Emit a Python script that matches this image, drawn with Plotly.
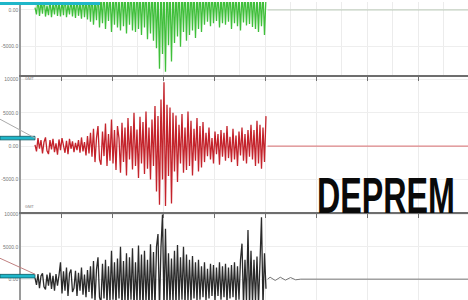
import plotly.graph_objects as go

# sampling of the recorded part (seconds)
t_start = 4.9
dt = 0.2941

green_vals = [300, -600, 1500, -800, 1200, -500, 1800, -900, 600, -700, 1400, -1000, 900, -600, 1600, -800, 1100, -900, 1300, -700, 2000, -1000, 800, -600, 1500, -900, 1200, -1100, 1700, -800, 1000, -1200, 1900, -1000, 1400, -1300, 2200,
              -1600, 2400, -2000, 1500, -1400, 2800, -2400, 1800, -1800, 3000, -2600, 2000, -1500, 2600, -3000, 2200, -2000, 3200, -2400, 1800, -2800, 3000, -2200, 2600, -3200, 2400, -2000, 3400, -2800, 2200, -3000, 3600, -2600, 2800, -3400, 3000, -2400, 3800, -4000, 2600, -3200, 3400, -4200,
              4000, -5200, 3000, -8000, 4200, -6000, 3600, -8400, 5000, -4800, 3500, -7000, 3800,
              -4500, 3000, -3600, 4000, -5000, 3200, -3000, 3800, -4200, 2800, -3400, 3600, -2800, 3000, -3800, 2600, -2600, 3400, -3000, 2400,
              -2000, 2800, -1600, 2400, -2200, 3000, -1800, 2200, -1500, 2600, -2400, 2000, -1800, 2800, -2000, 2400, -1600, 3000, -2600, 2200, -1800, 2600, -2200, 2000, -2800, 2400, -1700, 2600, -2100, 2200, -1900, 2800, -2300, 2400,
              -2600, 2000, -3000, 2400, -2200, 2600, -3400, 1800]

red_vals = [200, -800, 1200, -400, 900, -1100, 600, 1300, -700, -1200, 900, -500, 1100, -900, 400, -1300, 1000, -600, 1200, 300, -1000, 800, -1200, 1100, -400, 700, -900, 500, -600, 900, -1000, 1300, -800, 600, -1400, 1500, -1100,
            2000, -1600, 2600, -2400, 1200, 3000, -2000, -2800, 2200, -1500, 3400, -3000, 1800, -2200, 4000, -2600, 2400, -3600, 3000, 1200, -4000, 3500, -2400, 2800, -4400, 4200, -2000, 3000, -3500, 5000, -3000, 2500, -4800, 4400, -2600, 3600, -4200, 5200, -3400, 2800, -5000, 4000, -3000,
            6000, -6800, 4500, -8800, 7000, -5000, 9600, -9000, 6200, -4500, 5800, -8600, 5000,
            -3800, 4600, -5400, 3200, -2600, 4800, -4000, 2800, -3600, 5200, -3000, 3800, -4400, 2600, -2200, 4200, -3800, 3000, -3200, 3600,
            -2400, 2000, -1500, 2800, -2000, 1200, -2600, 2200, -1200, 1800, -2800, 2400, -1600, 2000, -2200, 3000, -1800, 1400, -2400, 2600, -2000, 1600, -3000, 2200, -1400, 2800, -2200, 1800, -2600, 2400, -1600, 3200, -2000, 2400,
            -3000, 3800, -2600, 3200, -3400, 2800, -2400, 4500]

black_vals = [200, -900, 800, -1400, 500, 900, -1200, -1600, 700, -1000, 1000, -1500, 500, -1800, 800, -1000, 600,
              2600,
              -2200, 1200, -1800, 1800, -2600, 900, 1500, -2000, -1400, 1300, -2600, 1000, -1800, 1800, -2400, 700, -2800, 1400, -2000,
              2000, -3000, 2800, -3400, 1500, 3400, -2800, -3600, 2400, -3000, 3000, -3800, 2000, -3400, 4400, -3200, 2600, -4000, 3200, -3000, 5000, -4200, 2800,
              -3600, 4000, -4200, 3400, -3200, 4800, -4400, 2600, -3800, 5200, -4000, 3800, -4400, 4400, -3600, 3000, -4600, 5400, -4000, 4200, -4400, 5000,
              7000, -4800, 5000, 10000, -4600, 7800, -4000, 4000,
              -3800, 3200, -3600, 4400, -4000, 5300, -3600, 3400, -3200, 5000, -3800, 3800, -3400, 3000, -3600, 3600, -3000, 2600, -3400, 3000,
              -3200, 2000, -2800, 2600, -3400, 1600, -3000, 2400, -2600, 2200, -3400, 1800, -2600, 2600, -3200, 2000, -2800, 2400, -3600, 1800, -3000, 2200, -2800, 2600, -3400, 2000, -3200, 3000,
              5500, -4000, 3000, -3600, 7600, -4200, 4400, -3800, 3000, -3600, 3500, -4000, 2600, 9600, -4200, 4000, -1500]

# quiet tail after the record
tail_t = [50.5, 51.0, 52.0, 53.0, 54.0, 55.0, 56.0, 57.0, 89.8]
tail_green = [0, 0, 0, 0, 0, 0, 0, 0, 0]
tail_red = [0, 0, 0, 0, 0, 0, 0, 0, 0]
tail_black = [0, 300, -200, 300, -150, 250, -100, 0, 0]

y1_ticks = [0, -5000]
y1_labels = ["0.00", "-5000.0"]
y2_ticks = [10000, 5000, 0, -5000]
y2_labels = ["10000", "5000.0", "0.00", "-5000.0"]
y3_ticks = [10000, 5000, 0]
y3_labels = ["10000", "5000.0", "0.00"]

title_text = "DEPREM"

fig = go.Figure()

def add(vals, tail, color, tailcolor, xa, ya):
    t = [t_start + i * dt for i in range(len(vals))]
    fig.add_trace(go.Scatter(x=t, y=vals, mode="lines", line=dict(color=color, width=1.3),
                             xaxis=xa, yaxis=ya, showlegend=False, hoverinfo="skip"))
    fig.add_trace(go.Scatter(x=tail_t, y=tail, mode="lines", line=dict(color=tailcolor, width=1),
                             xaxis=xa, yaxis=ya, showlegend=False, hoverinfo="skip"))

add(green_vals, tail_green, "#3fbf3a", "#b9c9b6", "x", "y")
add(red_vals, tail_red, "#c4232b", "#d86a6e", "x2", "y2")
add(black_vals, tail_black, "#2a2a2a", "#777777", "x3", "y3")

xdom = [21 / 468, 1]
xr = [2.157, 89.8]
common_x = dict(range=xr, domain=xdom, showgrid=True, gridcolor="#ececec", dtick=5, tick0=0,
                showticklabels=False, zeroline=False)

fig.update_layout(
    width=468, height=300, margin=dict(l=0, r=0, t=0, b=0),
    paper_bgcolor="white", plot_bgcolor="white",
    xaxis=dict(**common_x, anchor="y", showline=False),
    xaxis2=dict(**common_x, anchor="y2", side="top", showline=True, linecolor="#6e6e6e", linewidth=2,
                ticks="inside", ticklen=4, tickcolor="#6e6e6e", tickvals=[10, 20, 30, 40, 50, 60, 70, 80]),
    xaxis3=dict(**common_x, anchor="y3", side="top", showline=True, linecolor="#6e6e6e", linewidth=2,
                ticks="inside", ticklen=4, tickcolor="#6e6e6e", tickvals=[10, 20, 30, 40, 50, 60, 70, 80]),
)

ycommon = dict(showgrid=True, gridcolor="#eeeeee", zeroline=False, showline=True, linecolor="#9a9a9a",
               linewidth=1.5, ticks="", tickfont=dict(size=5, color="#777777", family="Liberation Sans"))
fig.update_layout(
    yaxis=dict(**ycommon, domain=[1 - 76 / 300, 1], range=[-9190, 1080], anchor="x",
               tickvals=y1_ticks, ticktext=y1_labels),
    yaxis2=dict(**ycommon, domain=[1 - 213 / 300, 1 - 76 / 300], range=[-10130, 10300], anchor="x2",
                tickvals=y2_ticks, ticktext=y2_labels),
    yaxis3=dict(**ycommon, domain=[0, 1 - 213 / 300], range=[-3230, 10160], anchor="x3",
                tickvals=y3_ticks, ticktext=y3_labels),
)

# left-side markers (cyan bars and guide lines)
shapes = []
for yc in [1 - 137 / 300, 1 - 276 / 300]:
    shapes.append(dict(type="rect", xref="paper", yref="paper", x0=0, x1=35 / 468, y0=yc - 0.006, y1=yc + 0.006,
                       fillcolor="#1fb6c9", line=dict(color="#0d5a66", width=0.8), layer="above"))
shapes.append(dict(type="rect", xref="paper", yref="paper", x0=0, x1=100 / 468, y0=1 - 0.01, y1=1,
                   fillcolor="#1fb6c9", line=dict(width=0), layer="above"))
shapes.append(dict(type="line", xref="paper", yref="paper", x0=0, x1=35 / 468, y0=1 - 118 / 300, y1=1 - 137 / 300,
                   line=dict(color="#aaaaaa", width=1)))
shapes.append(dict(type="line", xref="paper", yref="paper", x0=0, x1=35 / 468, y0=1 - 258 / 300, y1=1 - 274 / 300,
                   line=dict(color="#c08080", width=1)))
fig.update_layout(shapes=shapes)

fig.add_annotation(text="<b>" + title_text + "</b>", xref="paper", yref="paper",
                   x=386 / 468, y=1 - 195.5 / 300, xanchor="center", yanchor="middle", showarrow=False,
                   font=dict(family="Liberation Sans, Arial, sans-serif", size=50, color="#0a0a0a"))
for yp in [1 - 72 / 300, 1 - 210 / 300]:
    fig.add_annotation(text="GMT", xref="paper", yref="paper", x=23 / 468, y=yp, xanchor="left",
                       showarrow=False, font=dict(size=4, color="#777777"))

# horizontally condense the title text (the original uses a condensed bold face)
post = """
function squeezeTitle(){
  var gd = document.getElementById('{plot_id}');
  if(!gd) return;
  var nodes = gd.querySelectorAll('text.annotation-text');
  nodes.forEach(function(el){
    if(el.textContent.trim() === 'DEPREM'){
      el.removeAttribute('transform');
      var cx = parseFloat(el.getAttribute('x'));
      if (isNaN(cx)) { var b = el.getBBox(); cx = b.x + b.width / 2; }
      el.setAttribute('text-anchor', 'middle');
      el.setAttribute('transform', 'translate(' + cx + ',0) scale(0.645,1) translate(' + (-cx) + ',0)');
    }
  });
}
squeezeTitle();
setTimeout(squeezeTitle, 30);
var gd0 = document.getElementById('{plot_id}');
if (gd0 && gd0.on) { gd0.on('plotly_afterplot', squeezeTitle); }
"""

fig.write_html("out.html", post_script=post)
